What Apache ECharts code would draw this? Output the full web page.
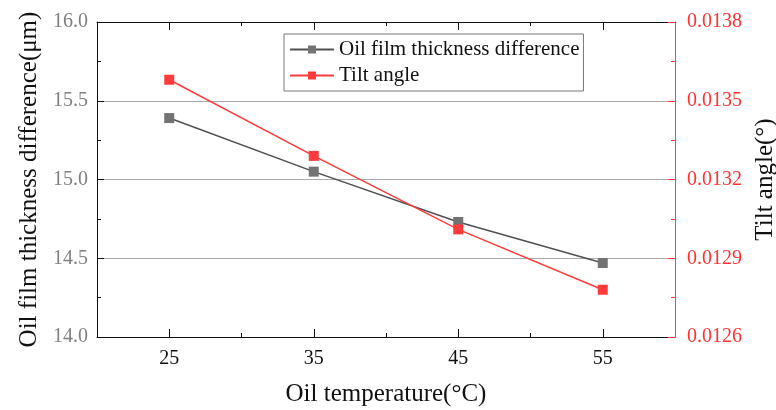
<!DOCTYPE html>
<html lang="en">
<head>
    <meta charset="UTF-8">
    <title>Oil film thickness / tilt angle</title>
    <style>
        html, body { margin: 0; padding: 0; background: #fff; }
        #chart { width: 776px; height: 410px; }
    </style>
</head>
<body>
    <div id="chart"></div>
    <script src="https://cdn.jsdelivr.net/npm/echarts@6/dist/echarts.min.js"></script>
    <script>
        // 数据
        var temps = [25, 35, 45, 55];
        var thickness = [15.39, 15.05, 14.73, 14.47];
        var tilt = [0.01358, 0.01329, 0.01301, 0.01278];
        var xLabelTicks = [25, 35, 45, 55];
        var xMinorTicks = [30, 40, 50];

        var serif = 'Liberation Serif';
        var chart = echarts.init(document.getElementById('chart'));

        function pairs(ys) {
            return temps.map(function (t, i) { return [t, ys[i]]; });
        }

        // 多个x轴叠放：主刻度带标签，次刻度短一些，上面再一根做边框
        function xAxisBase(pos, ticks, len, showLine, labels) {
            return {
                type: 'value',
                position: pos,
                min: 20,
                max: 60,
                interval: 5,
                axisLine: { show: showLine, lineStyle: { color: '#111', width: 1 } },
                axisTick: { show: true, inside: true, length: len, customValues: ticks, lineStyle: { color: '#111' } },
                axisLabel: labels ? {
                    show: true, customValues: xLabelTicks, margin: 12,
                    color: '#111', fontSize: 20, fontFamily: serif
                } : { show: false },
                splitLine: { show: false }
            };
        }

        var option = {
            animation: false,
            textStyle: { fontFamily: serif },
            grid: { left: 97, right: 101, top: 22, bottom: 73, outerBoundsMode: 'none', containLabel: false },
            legend: {
                orient: 'vertical',
                left: 284,
                top: 34,
                padding: [5, 4, 5, 5],
                itemGap: 5,
                itemWidth: 44,
                itemHeight: 10,
                borderColor: '#777',
                borderWidth: 1,
                textStyle: { fontSize: 21, color: '#111', fontFamily: serif },
                data: ['Oil film thickness difference', 'Tilt angle']
            },
            xAxis: [
                Object.assign(xAxisBase('bottom', xLabelTicks, 8, true, true), {
                    name: 'Oil temperature(°C)',
                    nameLocation: 'middle',
                    nameGap: 45,
                    nameTextStyle: { fontSize: 25, color: '#111', fontFamily: serif }
                }),
                xAxisBase('bottom', xMinorTicks, 4, false, false),
                xAxisBase('top', xLabelTicks, 8, true, false),
                xAxisBase('top', xMinorTicks, 4, false, false)
            ],
            yAxis: [{
                type: 'value',
                position: 'left',
                min: 14,
                max: 16,
                interval: 0.5,
                name: 'Oil film thickness difference(μm)',
                nameLocation: 'middle',
                nameGap: 55,
                nameTextStyle: { fontSize: 25, color: '#111', fontFamily: serif },
                axisLine: { show: true, lineStyle: { color: '#111', width: 1 } },
                axisTick: { show: true, inside: true, length: 7, lineStyle: { color: '#111' } },
                minorTick: { show: true, splitNumber: 2, length: 4, lineStyle: { color: '#111' } },
                axisLabel: {
                    margin: 9, color: '#808080', fontSize: 20, fontFamily: serif,
                    formatter: function (v) { return v.toFixed(1); }
                },
                splitLine: { show: true, lineStyle: { color: '#aaaaaa', width: 1 } }
            }, {
                type: 'value',
                position: 'right',
                min: 0.0126,
                max: 0.0138,
                interval: 0.0003,
                name: 'Tilt angle(°)',
                nameLocation: 'middle',
                nameRotate: 90,
                nameGap: 78,
                nameTextStyle: { fontSize: 25, color: '#111', fontFamily: serif },
                axisLine: { show: true, lineStyle: { color: '#ff4040', width: 1 } },
                axisTick: { show: true, inside: true, length: 7, lineStyle: { color: '#ff4040' } },
                minorTick: { show: true, splitNumber: 2, length: 4, lineStyle: { color: '#ff4040' } },
                axisLabel: {
                    margin: 12, color: '#ff3333', fontSize: 20, fontFamily: serif,
                    formatter: function (v) { return v.toFixed(4); }
                },
                splitLine: { show: false }
            }],
            series: [{
                name: 'Oil film thickness difference',
                type: 'line',
                xAxisIndex: 0,
                yAxisIndex: 0,
                data: pairs(thickness),
                symbol: 'rect',
                symbolSize: 10,
                itemStyle: { color: '#737373' },
                lineStyle: { color: '#505050', width: 1.5 }
            }, {
                name: 'Tilt angle',
                type: 'line',
                xAxisIndex: 0,
                yAxisIndex: 1,
                data: pairs(tilt),
                symbol: 'rect',
                symbolSize: 10,
                itemStyle: { color: '#ff3b3b' },
                lineStyle: { color: '#ff3b3b', width: 1.5 }
            }]
        };
        chart.setOption(option);
    </script>
</body>
</html>
